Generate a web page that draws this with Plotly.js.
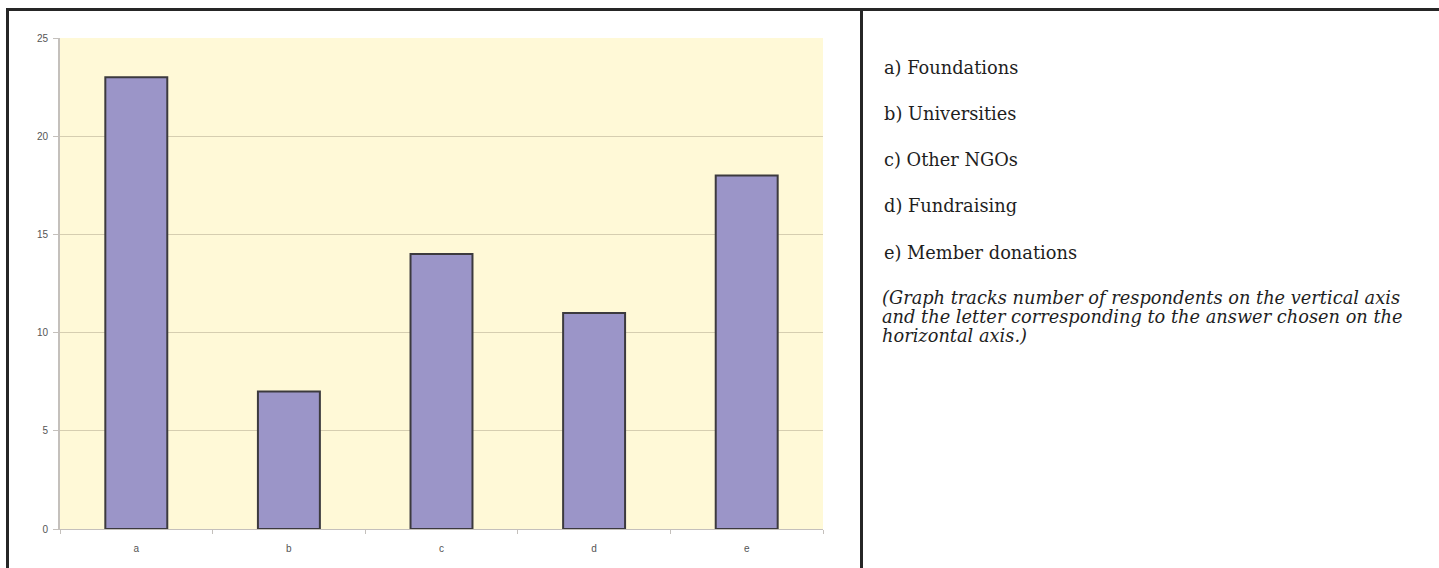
<!DOCTYPE html>
<html>
<head>
<meta charset="utf-8">
<script src="https://cdn.plot.ly/plotly-3.0.1.min.js"></script>
<style>
  html, body { margin: 0; padding: 0; background: #ffffff; }
  #chart { width: 1439px; height: 568px; }
</style>
</head>
<body>
<div id="chart"></div>
<script>
// Funding sources: answer letter and number of respondents
const categories = ['a', 'b', 'c', 'd', 'e'];
const respondents = [23, 7, 14, 11, 18];
const yTicks = [0, 5, 10, 15, 20, 25];

// Key for the answer letters, plus the explanatory note
const keyLines = [
  'a) Foundations',
  'b) Universities',
  'c) Other NGOs',
  'd) Fundraising',
  'e) Member donations'
];
const noteLines = [
  '(Graph tracks number of respondents on the vertical axis',
  'and the letter corresponding to the answer chosen on the',
  'horizontal axis.)'
];

// Plot area in pixels within the 1439 x 568 page
const W = 1439, H = 568;
const plotL = 60, plotR = 823, plotT = 38, plotB = 529;
const px = x => (x - plotL) / (plotR - plotL);
const py = y => (plotB - y) / (plotB - plotT);

const serif = '"DejaVu Serif", "Liberation Serif", serif';

const annotations = [];
keyLines.forEach((t, i) => {
  annotations.push({
    xref: 'paper', yref: 'paper', x: px(882), y: py(67 + i * 46.3),
    xanchor: 'left', yanchor: 'middle', showarrow: false, text: t,
    font: { family: serif, size: 17.8, color: '#1e1e1e' }
  });
});
noteLines.forEach((t, i) => {
  annotations.push({
    xref: 'paper', yref: 'paper', x: px(880), y: py(297 + i * 19.3),
    xanchor: 'left', yanchor: 'middle', showarrow: false, text: '<i>' + t + '</i>',
    font: { family: serif, size: 17.8, color: '#1e1e1e' }
  });
});

// Frame lines: top rule, left edge, and the divider between chart and key
const frameColor = '#262626';
const shapes = [
  { type: 'line', xref: 'paper', yref: 'paper', x0: px(6), x1: px(W + 5), y0: py(9.5), y1: py(9.5),
    line: { color: frameColor, width: 3 } },
  { type: 'line', xref: 'paper', yref: 'paper', x0: px(7.5), x1: px(7.5), y0: py(9), y1: py(H + 5),
    line: { color: frameColor, width: 3 } },
  { type: 'line', xref: 'paper', yref: 'paper', x0: px(861.5), x1: px(861.5), y0: py(9), y1: py(H + 5),
    line: { color: frameColor, width: 3 } }
];

const trace = {
  type: 'bar',
  x: categories,
  y: respondents,
  marker: { color: '#9b95c8', line: { color: '#3c3a3e', width: 2 } },
  hoverinfo: 'x+y'
};

const tickFont = { family: '"Liberation Sans", Arial, sans-serif', size: 10, color: '#555555' };

const layout = {
  width: W, height: H,
  margin: { l: plotL, r: W - plotR, t: plotT, b: H - plotB, pad: 0 },
  paper_bgcolor: '#ffffff',
  plot_bgcolor: '#fff9d7',
  bargap: 0.594,
  showlegend: false,
  xaxis: {
    type: 'category',
    tickson: 'boundaries',
    ticks: 'outside', ticklen: 4, tickcolor: '#c4c0bc', tickwidth: 1,
    ticklabelstandoff: 10,
    showline: true, linecolor: '#c4c0bc', linewidth: 1,
    showgrid: false, zeroline: false,
    tickfont: tickFont,
    automargin: false
  },
  yaxis: {
    range: [0, 25],
    tickvals: yTicks,
    ticktext: yTicks.map(String),
    ticks: 'outside', ticklen: 5, tickcolor: '#c4c0bc', tickwidth: 1,
    ticklabelstandoff: 3,
    showline: true, linecolor: '#c4c0bc', linewidth: 2,
    showgrid: true, gridcolor: '#d6ceb0', gridwidth: 1,
    zeroline: false,
    tickfont: tickFont,
    automargin: false
  },
  annotations: annotations,
  shapes: shapes
};

Plotly.newPlot('chart', [trace], layout, { displayModeBar: false, staticPlot: true });
</script>
</body>
</html>
